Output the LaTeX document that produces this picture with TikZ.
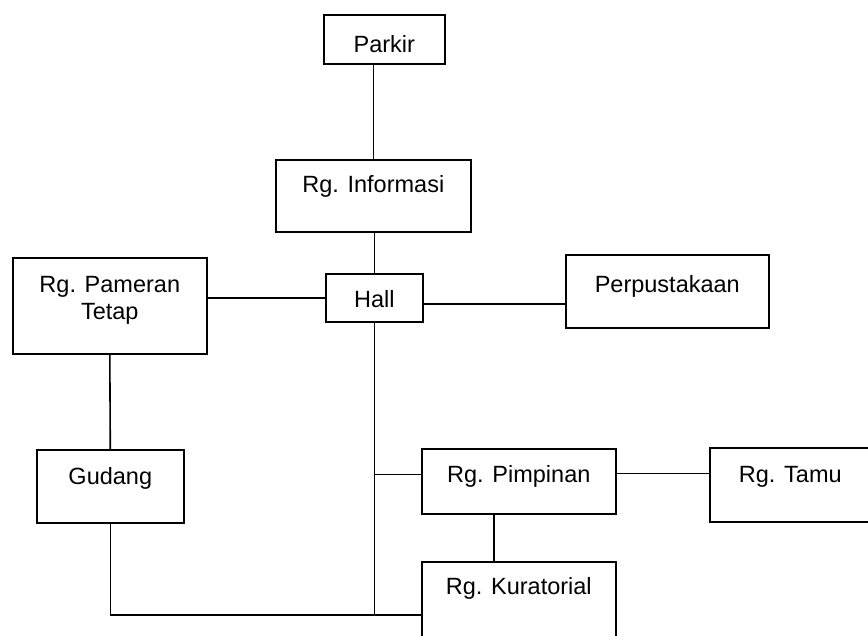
\documentclass[tikz,border=0pt]{standalone}
\usepackage{fontspec}
\newfontfamily\roomfont{Liberation Sans}
\usetikzlibrary{calc}

\begin{document}
\begin{tikzpicture}[x=1pt,y=-1pt,line width=1.6pt,
    room/.style={draw,anchor=north west,inner sep=0pt,align=center,
      font={\roomfont\fontsize{23.5pt}{27pt}\selectfont}}]
    \useasboundingbox (0,0) rectangle (868,635);
    % ruang-ruang
    \node[room,minimum width=121pt,text height=37.5pt,text depth=11.5pt] (parkir) at (323,14) {Parkir};
    \node[room,minimum width=195pt,text height=32.5pt,text depth=39.5pt] (info) at (275,159) {Rg. Informasi};
    \node[room,minimum width=97pt,text height=33.5pt,text depth=14.5pt] (hall) at (325,273) {Hall};
    \node[room,minimum width=194pt,text height=61.5pt,text depth=34.5pt] (pameran) at (12,257) {Rg. Pameran\\Tetap};
    \node[room,minimum width=203pt,text height=37.5pt,text depth=35.5pt] (perpus) at (565,254) {Perpustakaan};
    \node[room,minimum width=147pt,text height=34.5pt,text depth=38.5pt] (gudang) at (36,449) {Gudang};
    \node[room,minimum width=194pt,text height=33.5pt,text depth=31.5pt] (pimpinan) at (421,448) {Rg. Pimpinan};
    \node[room,minimum width=161pt,text height=34.5pt,text depth=39.5pt] (tamu) at (709,447) {Rg. Tamu};
    \node[room,minimum width=194pt,text height=32.5pt,text depth=73.5pt] (kuratorial) at (421,561) {Rg. Kuratorial};
    % hubungan
    \draw (info.north) -- (info.north |- parkir.south);
    \draw (hall.north) -- (hall.north |- info.south);
    \draw (hall.west) -- (hall.west -| pameran.east);
    \draw ([yshift=-6pt]hall.east) -- ([yshift=-6pt]hall.east -| perpus.west);
    \draw (pameran.south) -- (gudang.north);
    \draw (gudang.south) |- (kuratorial.west);
    \draw (hall.south) -- (hall.south |- kuratorial.west);
    \draw ([yshift=7pt]pimpinan.west) -- ([yshift=7pt]pimpinan.west -| hall.south);
    \draw ([yshift=8pt]pimpinan.east) -- ([yshift=8pt]pimpinan.east -| tamu.west);
    \draw ([xshift=-25pt]pimpinan.south) -- ([xshift=-25pt]pimpinan.south |- kuratorial.north);
\end{tikzpicture}
\end{document}
